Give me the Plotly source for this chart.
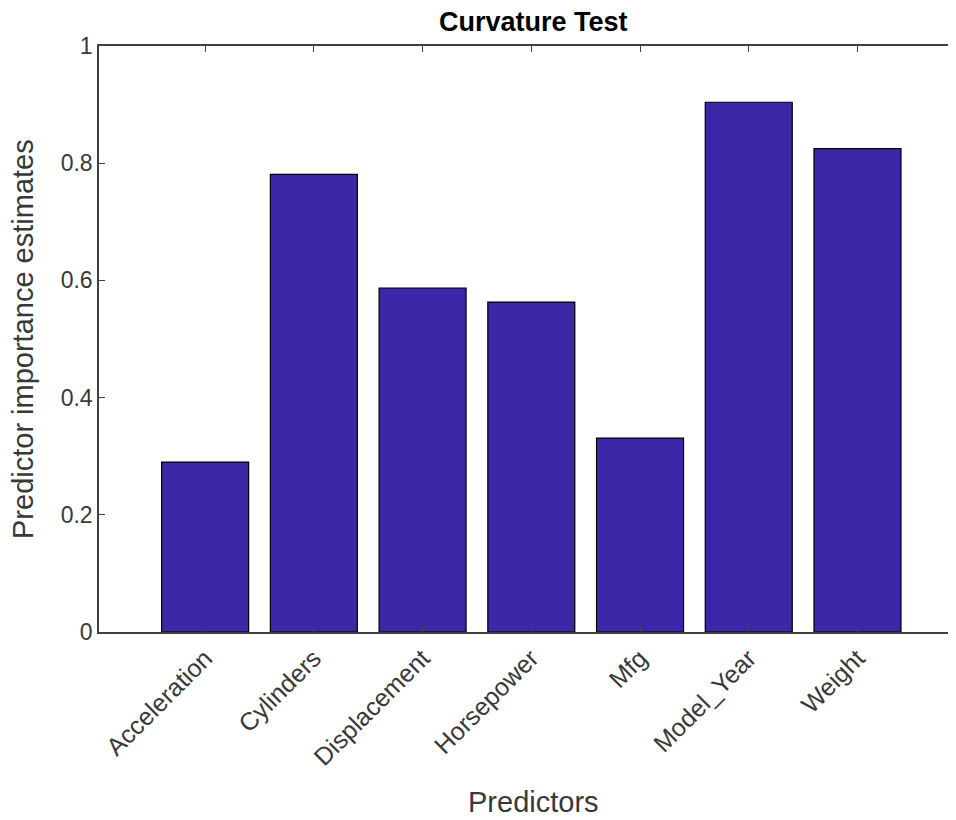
import plotly.graph_objects as go

categories = ["Acceleration", "Cylinders", "Displacement", "Horsepower", "Mfg", "Model_Year", "Weight"]
importance = [0.290, 0.781, 0.587, 0.563, 0.331, 0.904, 0.825]
y_ticks = [0, 0.2, 0.4, 0.6, 0.8, 1]
y_tick_labels = ["0", "0.2", "0.4", "0.6", "0.8", "1"]

FONT = "Liberation Sans, Arial, Helvetica, sans-serif"
AXIS = "#404040"
TEXT = "#383838"

# page body has an 8px margin: figure starts at (8, 8)
OFF = 8
W, H = 956 - OFF, 820 - OFF
L = 99 - OFF
T = 46 - OFF
B = H - (632 - OFF)
PW = W - L

fig = go.Figure(
    go.Bar(
        x=categories,
        y=importance,
        width=0.8,
        marker=dict(color="#3E26A8", line=dict(color="#000000", width=1.2)),
    )
)

fig.update_layout(
    width=W,
    height=H,
    margin=dict(l=L, r=0, t=T, b=B),
    paper_bgcolor="white",
    plot_bgcolor="white",
    showlegend=False,
    font=dict(family=FONT, color=TEXT),
    xaxis=dict(
        type="category",
        range=[-0.976, 6.906],
        showline=True,
        linecolor=AXIS,
        linewidth=1.5,
        mirror="ticks",
        ticks="inside",
        ticklen=6,
        tickcolor=AXIS,
        tickwidth=1,
        tickangle=-45,
        tickfont=dict(size=25, color=TEXT, family=FONT),
        showgrid=False,
        zeroline=False,
    ),
    yaxis=dict(
        range=[0, 1],
        tickmode="array",
        tickvals=y_ticks,
        ticktext=y_tick_labels,
        showline=True,
        linecolor=AXIS,
        linewidth=1.5,
        ticks="inside",
        ticklen=6,
        tickcolor=AXIS,
        tickwidth=1,
        tickfont=dict(size=23, color=TEXT, family=FONT),
        showgrid=False,
        zeroline=False,
    ),
    annotations=[
        dict(text="<b>Curvature Test</b>", xref="paper", yref="paper",
             x=(533 - 99) / PW, y=1, yshift=24, xanchor="center", yanchor="middle",
             showarrow=False, font=dict(size=27, color="#000000", family=FONT)),
        dict(text="Predictors", xref="paper", yref="paper",
             x=(533 - 99) / PW, y=0, yshift=-170, xanchor="center", yanchor="middle",
             showarrow=False, font=dict(size=29, color=TEXT, family=FONT)),
        dict(text="Predictor importance estimates", xref="paper", yref="paper",
             x=(23 - 99) / PW, y=0.5, xanchor="center", yanchor="middle", textangle=-90,
             showarrow=False, font=dict(size=29, color=TEXT, family=FONT)),
    ],
)

fig.write_html("out.html")
